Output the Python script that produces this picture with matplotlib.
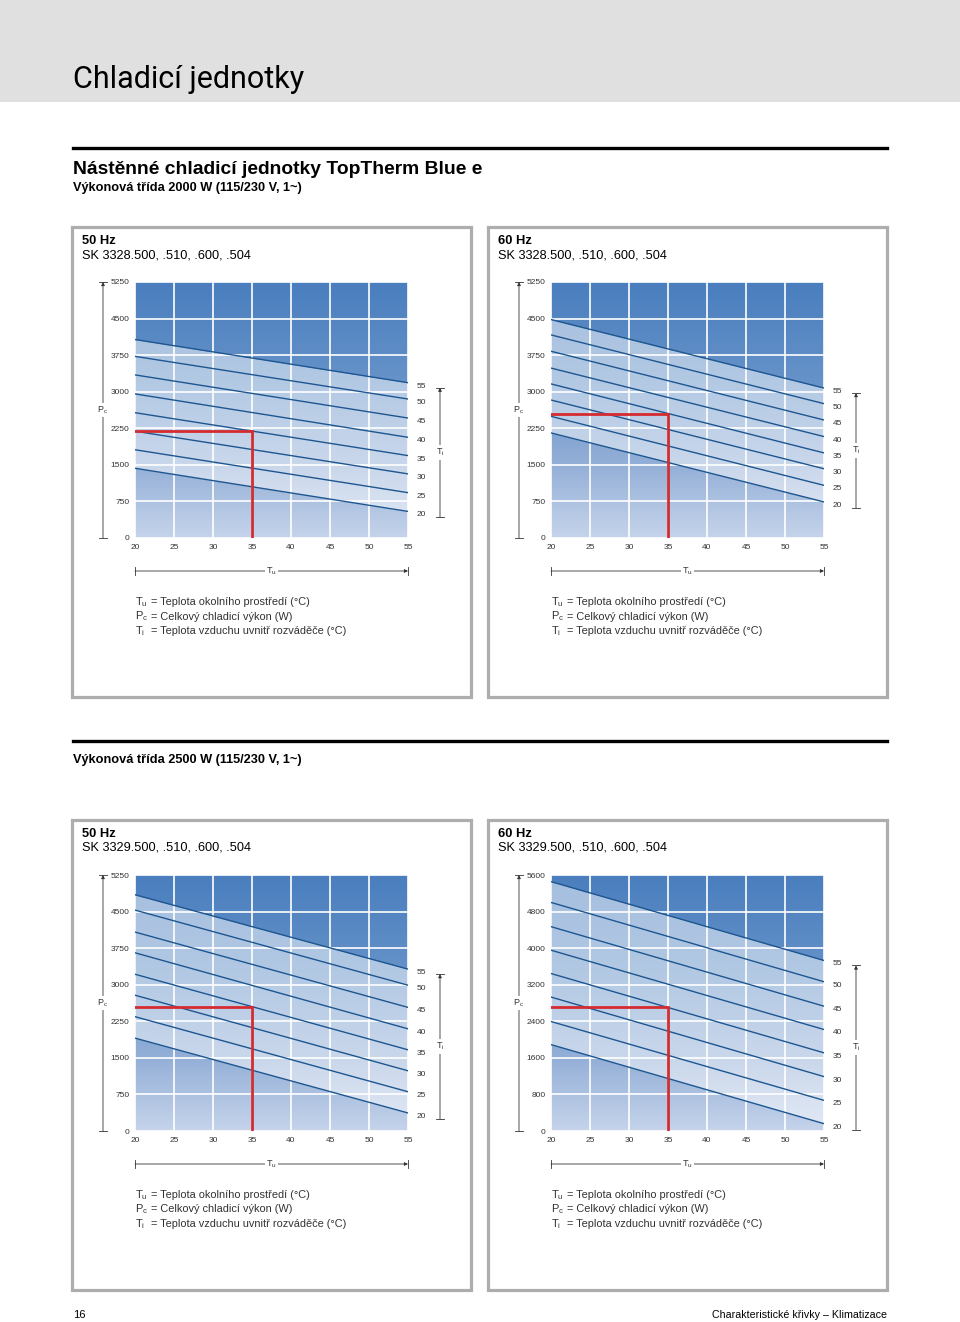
import numpy as np
import matplotlib as mpl
mpl.use('Agg')
import matplotlib.pyplot as plt
import matplotlib.transforms as mtransforms
from matplotlib.colors import LinearSegmentedColormap
from matplotlib.patches import Rectangle
from matplotlib.lines import Line2D

mpl.rcParams.update({
    'font.family': ['Liberation Sans', 'DejaVu Sans'],
    'mathtext.fontset': 'custom',
    'mathtext.rm': 'Liberation Sans',
    'mathtext.it': 'Liberation Sans:italic',
    'mathtext.bf': 'Liberation Sans:bold',
})

# --- data ---
tu_ends = [20, 55]                      # ambient temp range (Tu)
tu_ticks = [20, 25, 30, 35, 40, 45, 50, 55]
ti_levels = [55, 50, 45, 40, 35, 30, 25, 20]   # inside temp (Ti) per curve
op_tu = 35                              # red operating point, Tu

# SK 3328, 50 Hz
pc20_3328_50 = [4070, 3725, 3345, 2955, 2570, 2190, 1810, 1430]
pc55_3328_50 = [3185, 2850, 2460, 2065, 1690, 1315, 930, 545]
op_3328_50 = 2190
yticks_3328_50 = [0, 750, 1500, 2250, 3000, 3750, 4500, 5250]

# SK 3328, 60 Hz
pc20_3328_60 = [4480, 4165, 3830, 3485, 3160, 2830, 2495, 2155]
pc55_3328_60 = [3075, 2755, 2420, 2080, 1745, 1420, 1080, 740]
op_3328_60 = 2545
yticks_3328_60 = [0, 750, 1500, 2250, 3000, 3750, 4500, 5250]

# SK 3329, 50 Hz
pc20_3329_50 = [4845, 4530, 4080, 3655, 3215, 2785, 2345, 1905]
pc55_3329_50 = [3320, 2990, 2535, 2095, 1665, 1235, 805, 370]
op_3329_50 = 2550
yticks_3329_50 = [0, 750, 1500, 2250, 3000, 3750, 4500, 5250]

# SK 3329, 60 Hz
pc20_3329_60 = [5455, 5000, 4470, 3955, 3445, 2930, 2395, 1890]
pc55_3329_60 = [3730, 3265, 2730, 2220, 1710, 1190, 670, 160]
op_3329_60 = 2705
yticks_3329_60 = [0, 800, 1600, 2400, 3200, 4000, 4800, 5600]

charts = [
    ('50 Hz', 'SK 3328.500, .510, .600, .504', yticks_3328_50, pc20_3328_50, pc55_3328_50, op_3328_50),
    ('60 Hz', 'SK 3328.500, .510, .600, .504', yticks_3328_60, pc20_3328_60, pc55_3328_60, op_3328_60),
    ('50 Hz', 'SK 3329.500, .510, .600, .504', yticks_3329_50, pc20_3329_50, pc55_3329_50, op_3329_50),
    ('60 Hz', 'SK 3329.500, .510, .600, .504', yticks_3329_60, pc20_3329_60, pc55_3329_60, op_3329_60),
]
panel_origins = [(72, 227), (488, 227), (72, 820), (488, 820)]

legend_rows = [
    (r'T$_\mathrm{u}$', '= Teplota okolního prostředí (°C)'),
    (r'P$_\mathrm{c}$', '= Celkový chladicí výkon (W)'),
    (r'T$_\mathrm{i}$', '= Teplota vzduchu uvnitř rozváděče (°C)'),
]

# --- page geometry (pixels) ---
W, H = 960, 1322
PANEL_W, PANEL_H = 399, 470
PLOT_DX, PLOT_DY = 63, 55
PLOT_W, PLOT_H = 273, 256
TXT = '#333333'
LINE_BLUE = '#1d5690'

bg_cmap = LinearSegmentedColormap.from_list(
    'bg', [(0, '#c6d4eb'), (0.27, '#96b1d8'), (0.62, '#6592c8'), (1, '#4a7ebe')])


def fx(x):
    return x / W


def fy(y):
    return 1 - y / H


def rect_px(x0, y0, w, h):
    return [x0 / W, 1 - (y0 + h) / H, w / W, h / H]


def draw_chart(fig, px, py, hz, model, yticks, pc20, pc55, op_pc):
    # panel frame + headings
    fig.add_artist(Rectangle((fx(px), fy(py + PANEL_H)), PANEL_W / W, PANEL_H / H,
                             transform=fig.transFigure, fill=False,
                             edgecolor='#adadad', lw=2.3))
    fig.text(fx(px + 10), fy(py + 14), hz, fontsize=9.3, fontweight='bold',
             va='center', ha='left', color='black')
    fig.text(fx(px + 10), fy(py + 28), model, fontsize=9.2,
             va='center', ha='left', color='black')

    ax = fig.add_axes(rect_px(px + PLOT_DX, py + PLOT_DY, PLOT_W, PLOT_H))
    ymax = yticks[-1]

    # vertical blue gradient background
    grad = np.linspace(0, 1, 256).reshape(-1, 1)
    ax.imshow(grad, origin='lower', extent=[tu_ends[0], tu_ends[1], 0, ymax],
              aspect='auto', cmap=bg_cmap, zorder=0)
    # light band between the outermost curves
    ax.fill_between(tu_ends, [pc20[-1], pc55[-1]], [pc20[0], pc55[0]],
                    color='white', alpha=0.5, lw=0, zorder=1)

    for i, ti in enumerate(ti_levels):
        ax.plot(tu_ends, [pc20[i], pc55[i]], color=LINE_BLUE, lw=1.0, zorder=3)
        ax.annotate(str(ti), xy=(tu_ends[1], pc55[i]), xytext=(6, -2.5),
                    textcoords='offset points', fontsize=6, color=TXT,
                    va='center', ha='left', annotation_clip=False)

    # operating point
    ax.plot([tu_ends[0], op_tu, op_tu], [op_pc, op_pc, 0],
            color='#d52b30', lw=2.0, zorder=4, solid_joinstyle='miter')

    ax.set_xlim(tu_ends)
    ax.set_ylim(0, ymax)
    ax.set_xticks(tu_ticks)
    ax.set_yticks(yticks)
    ax.set_axisbelow(False)
    ax.grid(color='white', lw=1.2)
    ax.tick_params(length=0, labelsize=6, colors=TXT, pad=4)
    for s in ax.spines.values():
        s.set_visible(False)

    upp = ymax / PLOT_H           # data units per pixel
    bx = mtransforms.blended_transform_factory(ax.transAxes, ax.transData)
    by = mtransforms.blended_transform_factory(ax.transData, ax.transAxes)
    arrow = dict(arrowstyle='-|>', lw=0.6, color=TXT, mutation_scale=5,
                 shrinkA=0, shrinkB=0)
    bar = 4 / PLOT_W

    # Pc scale on the left
    xl = -32 / PLOT_W
    ax.annotate('', xy=(xl, ymax), xytext=(xl, 0), xycoords=bx, textcoords=bx,
                arrowprops=arrow, annotation_clip=False)
    for yy in (0, ymax):
        ax.plot([xl - bar, xl + bar], [yy, yy], transform=bx, color=TXT,
                lw=0.6, clip_on=False)
    ax.text(xl, ymax / 2, r'P$_\mathrm{c}$', transform=bx, fontsize=6.5,
            color=TXT, ha='center', va='center',
            bbox=dict(fc='white', ec='none', pad=1))

    # Ti scale on the right
    xr = 1 + 32 / PLOT_W
    t_top = pc55[0] - 5 * upp
    t_bot = pc55[-1] - 6 * upp
    ax.annotate('', xy=(xr, t_top), xytext=(xr, t_bot), xycoords=bx, textcoords=bx,
                arrowprops=arrow, annotation_clip=False)
    for yy in (t_top, t_bot):
        ax.plot([xr - bar, xr + bar], [yy, yy], transform=bx, color=TXT,
                lw=0.6, clip_on=False)
    ax.text(xr, (t_top + t_bot) / 2, r'T$_\mathrm{i}$', transform=bx, fontsize=6.5,
            color=TXT, ha='center', va='center',
            bbox=dict(fc='white', ec='none', pad=1))

    # Tu scale below
    yb = -33 / PLOT_H
    ax.annotate('', xy=(tu_ends[1], yb), xytext=(tu_ends[0], yb), xycoords=by,
                textcoords=by, arrowprops=arrow, annotation_clip=False)
    for xx in tu_ends:
        ax.plot([xx, xx], [yb - bar, yb + bar], transform=by, color=TXT,
                lw=0.6, clip_on=False)
    ax.text(np.mean(tu_ends), yb, r'T$_\mathrm{u}$', transform=by, fontsize=6.5,
            color=TXT, ha='center', va='center',
            bbox=dict(fc='white', ec='none', pad=1))

    # legend lines
    base = py + PLOT_DY + PLOT_H
    for k, (sym, desc) in enumerate(legend_rows):
        yy = base + 64 + 14.5 * k
        fig.text(fx(px + PLOT_DX), fy(yy), sym, fontsize=8, color=TXT,
                 va='center', ha='left')
        fig.text(fx(px + PLOT_DX + 16), fy(yy), desc, fontsize=7.9, color=TXT,
                 va='center', ha='left')


fig = plt.figure(figsize=(W / 100, H / 100), dpi=100)

# page header
fig.add_artist(Rectangle((0, fy(102)), 1, 102 / H, transform=fig.transFigure,
                         color='#e0e0e0', lw=0))
fig.text(fx(73), fy(79), 'Chladicí jednotky', fontsize=22, va='center',
         ha='left', color='black', family=['Roboto', 'Liberation Sans'])
fig.add_artist(Line2D([fx(73), fx(887)], [fy(148), fy(148)], lw=2.4, color='black'))
fig.text(fx(73), fy(169), 'Nástěnné chladicí jednotky TopTherm Blue e',
         fontsize=13.9, fontweight='bold', va='center', ha='left')
fig.text(fx(73), fy(188), 'Výkonová třída 2000 W (115/230 V, 1~)',
         fontsize=9.2, fontweight='bold', va='center', ha='left')
fig.add_artist(Line2D([fx(73), fx(887)], [fy(741), fy(741)], lw=2.4, color='black'))
fig.text(fx(73), fy(760), 'Výkonová třída 2500 W (115/230 V, 1~)',
         fontsize=9.2, fontweight='bold', va='center', ha='left')

for (px, py), ch in zip(panel_origins, charts):
    draw_chart(fig, px, py, *ch)

# footer
fig.text(fx(73), fy(1315), '16', fontsize=8, va='center', ha='left', color='black')
fig.text(fx(887), fy(1315), 'Charakteristické křivky – Klimatizace', fontsize=7.7,
         va='center', ha='right', color='black')

fig.savefig('out.png', dpi=100)
